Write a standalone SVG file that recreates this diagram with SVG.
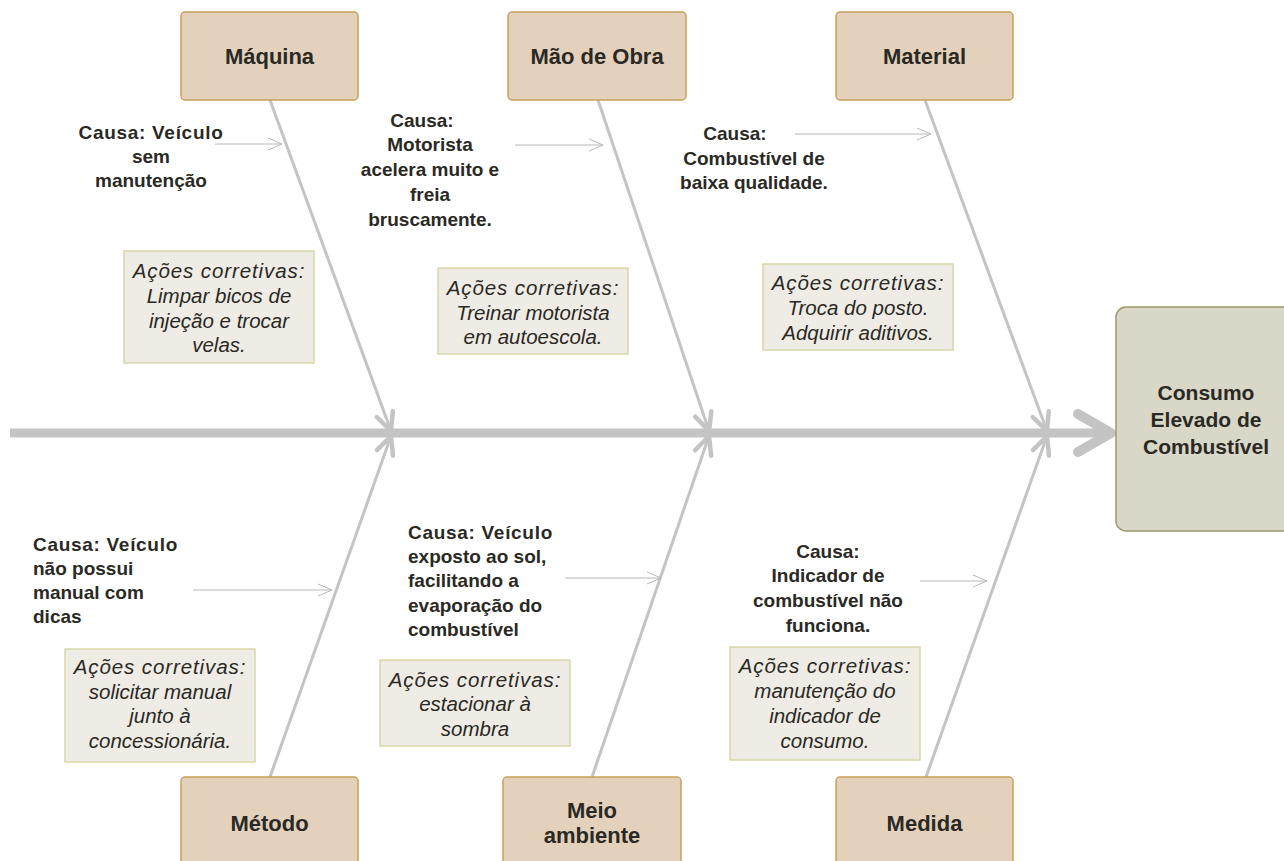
<svg xmlns="http://www.w3.org/2000/svg" width="1284" height="861" viewBox="0 0 1284 861">
<defs>
<style>
.cat{fill:#e3d1bc;stroke:#c9a05a;stroke-width:1.5}
.act{fill:#efece6;stroke:#d9d6a8;stroke-width:1.5}
.main{fill:#d9d7c7;stroke:#9a9a6a;stroke-width:1.5}
.lbl{font-family:"Liberation Sans",Arial,sans-serif;font-weight:bold;font-size:22px;fill:#2a2924;text-anchor:middle}
.big{font-size:21px}
.cause{font-family:"Liberation Sans",Arial,sans-serif;font-weight:bold;font-size:19px;fill:#2a2924}
.cv{letter-spacing:0.7px}
.ital{font-family:"Liberation Sans",Arial,sans-serif;font-style:italic;font-size:20.5px;fill:#2a2924;text-anchor:middle}
.ac{letter-spacing:0.9px}
.bone{stroke:#c4c4c4;stroke-width:3;fill:none;marker-end:url(#bh)}
.carr{stroke:#b8b8b8;stroke-width:1;fill:none;marker-end:url(#sh)}
</style>
<marker id="bh" markerUnits="userSpaceOnUse" markerWidth="40" markerHeight="40" refX="0" refY="0" orient="auto" overflow="visible">
<path d="M-18,-8.5 L0,0 L-18,8.5" fill="none" stroke="#c4c4c4" stroke-width="4.5" stroke-linecap="round" stroke-linejoin="round"/>
</marker>
<marker id="sh" markerUnits="userSpaceOnUse" markerWidth="30" markerHeight="30" refX="0" refY="0" orient="auto" overflow="visible">
<path d="M-14,-6 L0,0 L-14,6" fill="none" stroke="#b8b8b8" stroke-width="1"/>
</marker>
</defs>
<rect width="1284" height="861" fill="#ffffff"/>

<g id="connectors">
<line x1="10" y1="433" x2="1102" y2="433" stroke="#c4c4c4" stroke-width="9"/>
<path d="M1078,414 L1111,433 L1078,452" fill="none" stroke="#c4c4c4" stroke-width="10" stroke-linecap="round" stroke-linejoin="round"/>
<line class="bone" x1="270" y1="100" x2="391" y2="431"/>
<line class="bone" x1="598" y1="100" x2="709" y2="431"/>
<line class="bone" x1="925" y1="100" x2="1047" y2="431"/>
<line class="bone" x1="270" y1="777" x2="391" y2="436"/>
<line class="bone" x1="592" y1="777" x2="709" y2="436"/>
<line class="bone" x1="926" y1="777" x2="1047" y2="436"/>
<line class="carr" x1="215" y1="144" x2="282" y2="144"/>
<line class="carr" x1="515" y1="145" x2="603" y2="145"/>
<line class="carr" x1="795" y1="134" x2="931" y2="134"/>
<line class="carr" x1="193" y1="590" x2="332" y2="590"/>
<line class="carr" x1="565" y1="578" x2="661" y2="578"/>
<line class="carr" x1="920" y1="581" x2="987" y2="581"/>
</g>

<g id="effect">
<rect class="main" x="1116" y="307" width="190" height="224" rx="10"/>
<text class="lbl big" x="1206" y="400">Consumo</text>
<text class="lbl big" x="1206" y="427">Elevado de</text>
<text class="lbl big" x="1206" y="454">Combustível</text>
</g>

<g id="maquina">
<rect class="cat" x="181" y="12" width="177" height="88" rx="4"/>
<text class="lbl" x="269.5" y="64">Máquina</text>
</g>
<g id="maodeobra">
<rect class="cat" x="508" y="12" width="178" height="88" rx="4"/>
<text class="lbl" x="597" y="64">Mão de Obra</text>
</g>
<g id="material">
<rect class="cat" x="836" y="12" width="177" height="88" rx="4"/>
<text class="lbl" x="924.5" y="64">Material</text>
</g>
<g id="metodo">
<rect class="cat" x="181" y="777" width="177" height="100" rx="4"/>
<text class="lbl" x="269.5" y="831">Método</text>
</g>
<g id="meioambiente">
<rect class="cat" x="503" y="777" width="178" height="100" rx="4"/>
<text class="lbl" x="592" y="818">Meio</text>
<text class="lbl" x="592" y="843">ambiente</text>
</g>
<g id="medida">
<rect class="cat" x="836" y="777" width="177" height="100" rx="4"/>
<text class="lbl" x="924.5" y="831">Medida</text>
</g>

<g id="causa-maquina">
<text class="cause cv" text-anchor="middle" x="151" y="139">Causa: Veículo</text>
<text class="cause" text-anchor="middle" x="151" y="163">sem</text>
<text class="cause" text-anchor="middle" x="151" y="187">manutenção</text>
</g>
<g id="causa-maodeobra">
<text class="cause" text-anchor="middle" x="422" y="127">Causa:</text>
<text class="cause" text-anchor="middle" x="430" y="151">Motorista</text>
<text class="cause" text-anchor="middle" x="430" y="176">acelera muito e</text>
<text class="cause" text-anchor="middle" x="430" y="201">freia</text>
<text class="cause" text-anchor="middle" x="430" y="226">bruscamente.</text>
</g>
<g id="causa-material">
<text class="cause" text-anchor="middle" x="735" y="140">Causa:</text>
<text class="cause" text-anchor="middle" x="754" y="165">Combustível de</text>
<text class="cause" text-anchor="middle" x="754" y="189">baixa qualidade.</text>
</g>
<g id="causa-metodo">
<text class="cause cv" x="33" y="551">Causa: Veículo</text>
<text class="cause" x="33" y="575">não possui</text>
<text class="cause" x="33" y="599">manual com</text>
<text class="cause" x="33" y="623">dicas</text>
</g>
<g id="causa-meio">
<text class="cause cv" x="408" y="539">Causa: Veículo</text>
<text class="cause" x="408" y="563">exposto ao sol,</text>
<text class="cause" x="408" y="587">facilitando a</text>
<text class="cause" x="408" y="612">evaporação do</text>
<text class="cause" x="408" y="636">combustível</text>
</g>
<g id="causa-medida">
<text class="cause" text-anchor="middle" x="828" y="558">Causa:</text>
<text class="cause" text-anchor="middle" x="828" y="582">Indicador de</text>
<text class="cause" text-anchor="middle" x="828" y="607">combustível não</text>
<text class="cause" text-anchor="middle" x="828" y="632">funciona.</text>
</g>

<g id="acao-maquina">
<rect class="act" x="124" y="251" width="190" height="112"/>
<text class="ital ac" x="219" y="278">Ações corretivas:</text>
<text class="ital" x="219" y="303">Limpar bicos de</text>
<text class="ital" x="219" y="328">injeção e trocar</text>
<text class="ital" x="219" y="352">velas.</text>
</g>
<g id="acao-maodeobra">
<rect class="act" x="438" y="268" width="190" height="86"/>
<text class="ital ac" x="533" y="295">Ações corretivas:</text>
<text class="ital" x="533" y="320">Treinar motorista</text>
<text class="ital" x="533" y="344">em autoescola.</text>
</g>
<g id="acao-material">
<rect class="act" x="763" y="264" width="190" height="86"/>
<text class="ital ac" x="858" y="290">Ações corretivas:</text>
<text class="ital" x="858" y="315">Troca do posto.</text>
<text class="ital" x="858" y="340">Adquirir aditivos.</text>
</g>
<g id="acao-metodo">
<rect class="act" x="65" y="649" width="190" height="113"/>
<text class="ital ac" x="160" y="674">Ações corretivas:</text>
<text class="ital" x="160" y="699">solicitar manual</text>
<text class="ital" x="160" y="723">junto à</text>
<text class="ital" x="160" y="748">concessionária.</text>
</g>
<g id="acao-meio">
<rect class="act" x="380" y="660" width="190" height="86"/>
<text class="ital ac" x="475" y="687">Ações corretivas:</text>
<text class="ital" x="475" y="711">estacionar à</text>
<text class="ital" x="475" y="736">sombra</text>
</g>
<g id="acao-medida">
<rect class="act" x="730" y="647" width="190" height="113"/>
<text class="ital ac" x="825" y="673">Ações corretivas:</text>
<text class="ital" x="825" y="698">manutenção do</text>
<text class="ital" x="825" y="723">indicador de</text>
<text class="ital" x="825" y="748">consumo.</text>
</g>
</svg>
